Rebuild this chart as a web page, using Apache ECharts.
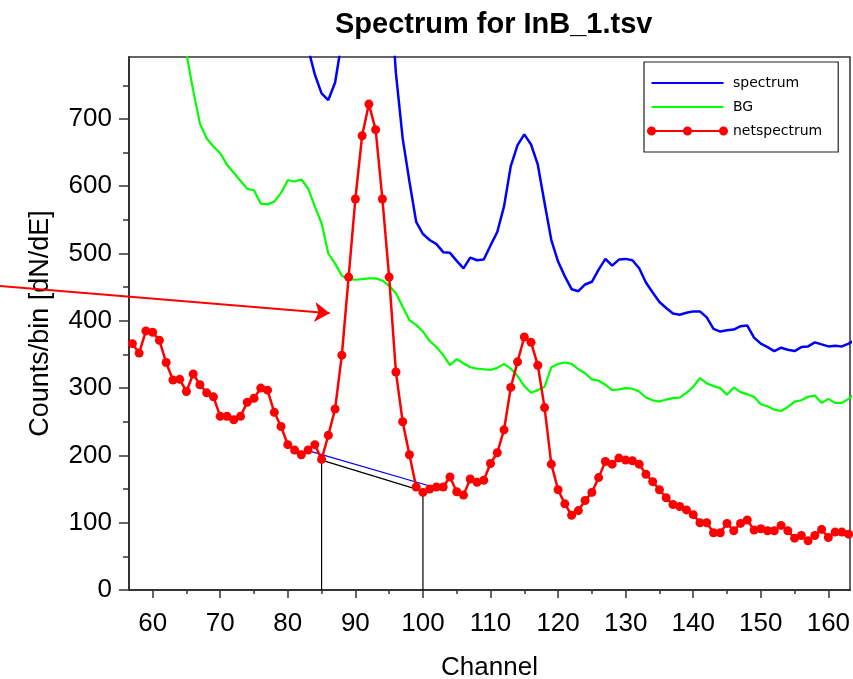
<!DOCTYPE html>
<html><head><meta charset="utf-8">
<script src="https://cdn.jsdelivr.net/npm/echarts@6/dist/echarts.min.js"></script>
<style>html,body{margin:0;padding:0;background:#fff}#c{width:853px;height:679px}</style>
</head><body><div id="c"></div>
<script>
// Channels (x values)
const channels = [57,58,59,60,61,62,63,64,65,66,67,68,69,70,71,72,73,74,75,76,77,78,79,80,81,82,83,84,85,86,87,88,89,90,91,92,93,94,95,96,97,98,99,100,101,102,103,104,105,106,107,108,109,110,111,112,113,114,115,116,117,118,119,120,121,122,123,124,125,126,127,128,129,130,131,132,133,134,135,136,137,138,139,140,141,142,143,144,145,146,147,148,149,150,151,152,153,154,155,156,157,158,159,160,161,162,163,164];
// spectrum (blue)
const spectrum = [1540,1482,1474,1418,1361,1263,1192,1145,1092,1063,998,964,946,907,890,873,866,875,879,874,870,841,833,825,815,811,805,766,738,728,754,816,927,1042,1137,1185,1147,1041,917,768,671,607,547,529,520,514,502,501,489,478,494,490,491,512,532,570,630,661,677,662,632,575,520,488,466,447,444,454,458,476,492,482,491,492,490,478,457,442,428,419,411,409,412,414,414,405,388,384,386,387,392,393,375,366,361,355,360,357,355,361,362,368,365,362,363,362,366,372];
// BG (green)
const bg = [1175,1130,1089,1035,990,925,880,832,797,742,693,671,659,649,632,620,608,596,594,574,573,577,590,609,607,610,597,570,545,500,485,467,462,461,462,463,463,460,452,441,421,401,394,384,370,361,349,334,343,337,331,329,328,327,330,336,329,318,303,293,297,302,331,336,338,336,328,322,313,311,305,297,298,300,299,295,286,282,280,283,285,286,293,302,315,307,303,300,290,301,294,291,287,276,273,268,266,272,280,282,287,289,278,284,278,278,284,292];
// netspectrum (red), channels 57..163
const netChannels = [57,58,59,60,61,62,63,64,65,66,67,68,69,70,71,72,73,74,75,76,77,78,79,80,81,82,83,84,85,86,87,88,89,90,91,92,93,94,95,96,97,98,99,100,101,102,103,104,105,106,107,108,109,110,111,112,113,114,115,116,117,118,119,120,121,122,123,124,125,126,127,128,129,130,131,132,133,134,135,136,137,138,139,140,141,142,143,144,145,146,147,148,149,150,151,152,153,154,155,156,157,158,159,160,161,162,163];
const netspectrum = [366,352,385,383,371,338,312,313,295,321,305,293,287,258,258,253,258,279,285,300,297,264,243,216,208,201,208,216,194,230,269,349,465,581,675,722,684,581,465,324,250,201,153,145,150,153,153,168,146,141,165,160,163,188,204,238,301,339,376,368,334,271,187,149,128,111,118,133,145,167,191,187,196,193,192,187,172,161,149,137,127,124,119,112,100,100,85,85,99,88,99,104,89,91,88,88,96,88,77,81,73,81,90,78,86,86,83];
// tick values
const xTicks = [60,70,80,90,100,110,120,130,140,150,160];
const xMinorTicks = [65,75,85,95,105,115,125,135,145,155];
const yTicks = [0,100,200,300,400,500,600,700];
const yMinorTicks = [50,150,250,350,450,550,650,750];
// annotations (data coordinates)
const blueBaseX = [83.0, 101.9];
const blueBaseY = [207, 152];
const blackBaseX = [85, 85, 100, 100];
const blackBaseY = [0, 193, 147, 0];
const arrowX = [37.4, 86.2];
const arrowY = [451.8, 411.2];

const FONT = 'Liberation Sans, Arial, sans-serif';
const zip = (a, b) => a.map((v, i) => [v, b[i]]);
const lineIcon = 'path://M0,0 M81,9 M4.5,3.5 L76.5,3.5 L76.5,5.5 L4.5,5.5 Z';
const dotIcon = 'path://M0,4.5 A4.5,4.5 0 1 1 9,4.5 A4.5,4.5 0 1 1 0,4.5 Z M36,4.5 A4.5,4.5 0 1 1 45,4.5 A4.5,4.5 0 1 1 36,4.5 Z M72,4.5 A4.5,4.5 0 1 1 81,4.5 A4.5,4.5 0 1 1 72,4.5 Z M4.5,3.5 L76.5,3.5 L76.5,5.5 L4.5,5.5 Z';

const chart = echarts.init(document.getElementById('c'), null, {renderer: 'canvas'});
const axisCommonX = {type: 'value', min: 56.5, max: 163.2, position: 'bottom', splitLine: {show: false}};
const axisCommonY = {type: 'value', min: 0, max: 792, position: 'left', splitLine: {show: false}};
chart.setOption({
  animation: false,
  backgroundColor: '#fff',
  title: {
    text: 'Spectrum for InB_1.tsv', left: 335, top: 10, padding: 0,
    textStyle: {fontFamily: FONT, fontSize: 29, fontWeight: 'bold', color: '#000'}
  },
  legend: {
    orient: 'vertical', left: 644, top: 62, padding: [14, 16, 14, 3],
    itemGap: 10, itemWidth: 81, itemHeight: 9, itemTextGap: 10,
    borderColor: '#222', borderWidth: 1.2, backgroundColor: '#fff',
    textStyle: {fontFamily: 'DejaVu Sans', fontSize: 14, color: '#000'},
    data: [
      {name: 'spectrum', icon: lineIcon},
      {name: 'BG', icon: lineIcon},
      {name: 'netspectrum', icon: dotIcon}
    ]
  },
  grid: {left: 129, right: 3, top: 57, bottom: 89, containLabel: false, outerBoundsMode: 'none',
         show: true, borderColor: '#333', borderWidth: 1.5, backgroundColor: 'transparent'},
  xAxis: [
    Object.assign({}, axisCommonX, {
      name: 'Channel', nameLocation: 'middle', nameGap: 65,
      nameTextStyle: {fontFamily: FONT, fontSize: 26, color: '#000'},
      axisLine: {show: true, onZero: false, lineStyle: {color: '#333', width: 2}},
      axisTick: {show: true, inside: false, length: 8, customValues: xTicks, lineStyle: {color: '#333', width: 1.5}},
      axisLabel: {show: true, customValues: xTicks, margin: 21, fontFamily: FONT, fontSize: 26, color: '#000'}
    }),
    Object.assign({}, axisCommonX, {
      axisLine: {show: false, onZero: false},
      axisTick: {show: true, inside: false, length: 4, customValues: xMinorTicks, lineStyle: {color: '#333', width: 1.5}},
      axisLabel: {show: false}
    })
  ],
  yAxis: [
    Object.assign({}, axisCommonY, {
      name: 'Counts/bin [dN/dE]', nameLocation: 'middle', nameGap: 75, nameRotate: 90,
      nameTextStyle: {fontFamily: FONT, fontSize: 27, color: '#000'},
      axisLine: {show: true, onZero: false, lineStyle: {color: '#333', width: 2}},
      axisTick: {show: true, inside: false, length: 10, customValues: yTicks, lineStyle: {color: '#333', width: 1.5}},
      axisLabel: {show: true, customValues: yTicks, margin: 17, fontFamily: FONT, fontSize: 26, color: '#000'}
    }),
    Object.assign({}, axisCommonY, {
      axisLine: {show: false, onZero: false},
      axisTick: {show: true, inside: false, length: 6, customValues: yMinorTicks, lineStyle: {color: '#333', width: 1.5}},
      axisLabel: {show: false}
    })
  ],
  series: [
    {name: 'spectrum', type: 'line', xAxisIndex: 0, yAxisIndex: 0, data: zip(channels, spectrum),
     symbol: 'none', showSymbol: false, color: '#0000ff', lineStyle: {color: '#0000ff', width: 2.5}, clip: true},
    {name: 'BG', type: 'line', xAxisIndex: 0, yAxisIndex: 0, data: zip(channels, bg),
     symbol: 'none', showSymbol: false, color: '#00ff00', lineStyle: {color: '#00ff00', width: 2.2}, clip: true},
    {name: 'baseBlue', type: 'line', data: zip(blueBaseX, blueBaseY), symbol: 'none',
     lineStyle: {color: '#0000ff', width: 1.2}, silent: true},
    {name: 'baseBlack', type: 'line', data: zip(blackBaseX, blackBaseY), symbol: 'none',
     lineStyle: {color: '#000', width: 1.2}, silent: true},
    {name: 'netspectrum', type: 'line', xAxisIndex: 0, yAxisIndex: 0, data: zip(netChannels, netspectrum),
     symbol: 'circle', symbolSize: 9, showAllSymbol: true, color: '#ff0000',
     itemStyle: {color: '#ff0000'}, lineStyle: {color: '#ff0000', width: 2.5}, clip: true},
    {name: 'arrow', type: 'lines', coordinateSystem: 'cartesian2d', clip: false, silent: true,
     symbol: ['none', 'arrow'], symbolSize: 15,
     lineStyle: {color: '#ff0000', width: 2, opacity: 1, curveness: 0},
     data: [{coords: zip(arrowX, arrowY)}]}
  ]
});
</script></body></html>
